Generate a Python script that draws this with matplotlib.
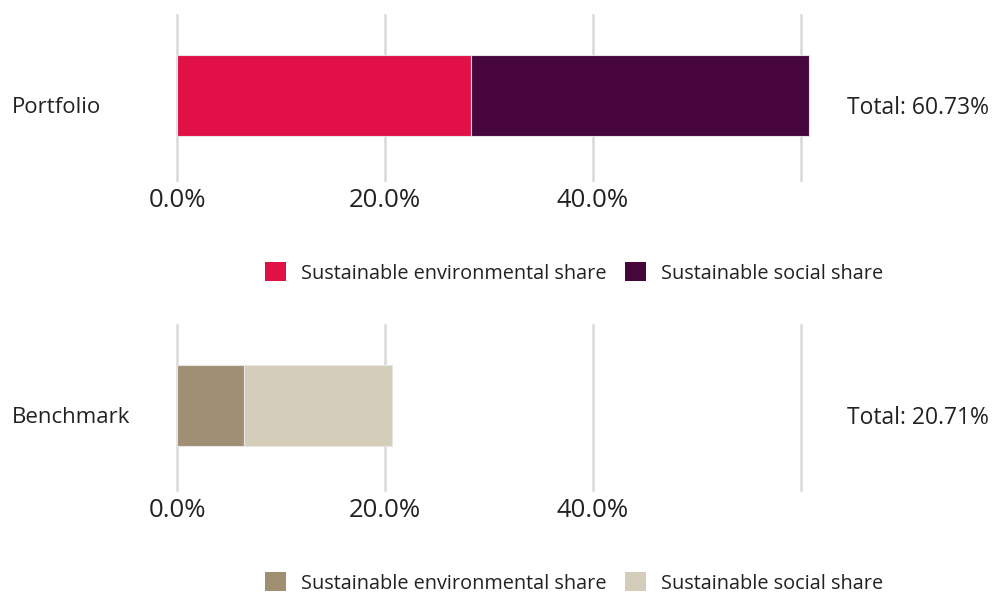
import matplotlib.pyplot as plt
from matplotlib.patches import Patch

# data
panels = ["Portfolio", "Benchmark"]
env_share = [28.3, 6.45]
social_share = [32.43, 14.26]
totals = ["Total: 60.73%", "Total: 20.71%"]
series_names = ["Sustainable environmental share", "Sustainable social share"]
env_colors = ["#e11047", "#a08f73"]
social_colors = ["#46063c", "#d4cdb9"]
tick_values = [0, 20, 40]
tick_labels = ["0.0%", "20.0%", "40.0%"]
grid_values = [0, 20, 40, 60]

plt.rcParams['font.family'] = ['Open Sans', 'DejaVu Sans']

W, H = 995, 596
fig = plt.figure(figsize=(W / 100, H / 100), dpi=100)


def px_axes(x0, y0, x1, y1):
    # pixel box (top-left origin) -> figure axes
    return fig.add_axes([x0 / W, 1 - y1 / H, (x1 - x0) / W, (y1 - y0) / H])


tops = [15, 325]
for i, name in enumerate(panels):
    top = tops[i]
    ax = px_axes(177, top, 801, top + 165)
    ax.set_xlim(0, 60)
    ax.set_ylim(-1, 1)
    for g in grid_values:
        ax.axvline(g, color="#d9d9d9", lw=1.8, zorder=0, clip_on=False)
    ax.barh([0.024], [env_share[i]], height=0.98, color=env_colors[i],
            edgecolor="#e6e6e6", lw=0.8, zorder=2, clip_on=False)
    ax.barh([0.024], [social_share[i]], left=[env_share[i]], height=0.98,
            color=social_colors[i], edgecolor="#e6e6e6", lw=0.8, zorder=2,
            clip_on=False)
    ax.set_xticks(tick_values)
    ax.set_xticklabels(tick_labels, fontsize=18.5, color="#222222")
    ax.tick_params(axis="x", length=0, pad=6)
    ax.set_yticks([])
    for sp in ax.spines.values():
        sp.set_visible(False)

    ax.text(-165 / 624, 0.437, name, transform=ax.transAxes, fontsize=16,
            color="#222222", va="center", ha="left")
    ax.text(670 / 624, 0.437, totals[i], transform=ax.transAxes, fontsize=16.5,
            color="#222222", va="center", ha="left")

    handles = [Patch(facecolor=env_colors[i], label=series_names[0]),
               Patch(facecolor=social_colors[i], label=series_names[1])]
    fig.legend(handles=handles, loc="center", ncol=2, frameon=False,
               bbox_to_anchor=(574 / W, 1 - (top + 258) / H),
               fontsize=14.3, handlelength=1.1, handleheight=1.1,
               handletextpad=0.75, columnspacing=0.9,
               labelcolor="#222222")

fig.savefig("out.png", dpi=100)
